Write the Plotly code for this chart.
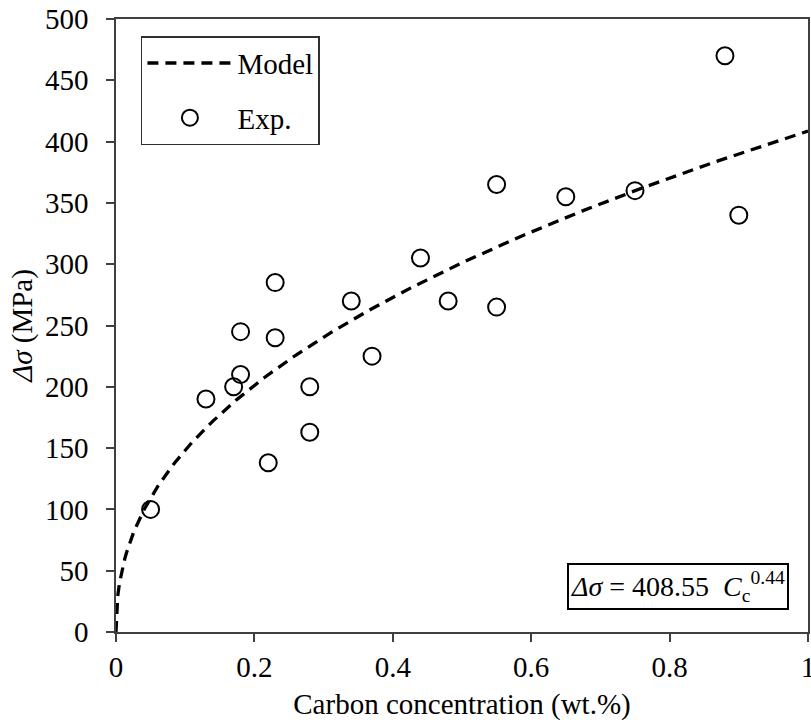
import numpy as np
import plotly.graph_objects as go

# Experimental strengthening increments vs. carbon content
carbon_wt = [0.05, 0.13, 0.17, 0.18, 0.18, 0.22, 0.23, 0.23, 0.28, 0.28,
             0.34, 0.37, 0.44, 0.48, 0.55, 0.55, 0.65, 0.75, 0.88, 0.90]
delta_sigma = [100, 190, 200, 210, 245, 138, 240, 285, 200, 163,
               270, 225, 305, 270, 265, 365, 355, 360, 470, 340]

# Power-law fit: delta_sigma = A * Cc^n
fit_A = 408.55
fit_n = 0.44
model_x = np.linspace(0, 1, 400)
model_y = fit_A * model_x ** fit_n

x_ticks = [0, 0.2, 0.4, 0.6, 0.8, 1]
x_tick_text = ["0", "0.2", "0.4", "0.6", "0.8", "1"]
y_ticks = list(range(0, 501, 50))

FONT = "Liberation Serif, Times New Roman, serif"
AXIS_COLOR = "#404040"
FS = 29

fig = go.Figure()
fig.add_trace(go.Scatter(
    x=model_x, y=model_y, mode="lines", name="Model", legendgroup="model",
    line=dict(color="black", width=3.3, dash="11px,7px"),
))
fig.add_trace(go.Scatter(
    x=carbon_wt, y=delta_sigma, mode="markers", name="Exp.", legendgroup="exp",
    marker=dict(symbol="circle-open", size=17, color="black",
                line=dict(color="black", width=2)),
))

fig.add_annotation(
    x=0.972, y=0.075, xref="paper", yref="paper",
    xanchor="right", yanchor="middle",
    text="<i>Δσ</i> = 408.55  <i>C</i><sub>c</sub><sup>0.44</sup>",
    showarrow=False,
    font=dict(family=FONT, size=28, color="black"),
    bordercolor="black", borderwidth=2, borderpad=2,
    bgcolor="white",
)

fig.update_layout(
    width=811, height=727,
    margin=dict(l=116, r=3, t=19, b=95),
    paper_bgcolor="white", plot_bgcolor="white",
    font=dict(family=FONT, size=FS, color="black"),
    showlegend=True,
    legend=dict(
        x=0.036, y=0.972, xanchor="left", yanchor="top",
        bordercolor="#303030", borderwidth=1.5, bgcolor="white",
        font=dict(family=FONT, size=FS, color="black"),
        itemwidth=85, tracegroupgap=14,
    ),
    xaxis=dict(
        range=[0, 1], tickvals=x_ticks, ticktext=x_tick_text,
        showline=True, linecolor=AXIS_COLOR, linewidth=1.5, mirror=True,
        ticks="outside", ticklen=8, tickcolor=AXIS_COLOR, tickwidth=1.5,
        showgrid=False, zeroline=False, ticklabeloverflow="allow",
        automargin=False,
        tickfont=dict(family=FONT, size=FS, color="black"),
        title=dict(text="Carbon concentration (wt.%)", standoff=12,
                   font=dict(family=FONT, size=FS, color="black")),
    ),
    yaxis=dict(
        range=[0, 500], tickvals=y_ticks,
        showline=True, linecolor=AXIS_COLOR, linewidth=1.5, mirror=True,
        ticks="outside", ticklen=8, tickcolor=AXIS_COLOR, tickwidth=1.5,
        showgrid=False, zeroline=False, ticklabelstandoff=12,
        automargin=False,
        tickfont=dict(family=FONT, size=FS, color="black"),
        title=dict(text="<i>Δσ</i> (MPa)", standoff=4,
                   font=dict(family=FONT, size=FS, color="black")),
    ),
)

fig.write_html("out.html")
